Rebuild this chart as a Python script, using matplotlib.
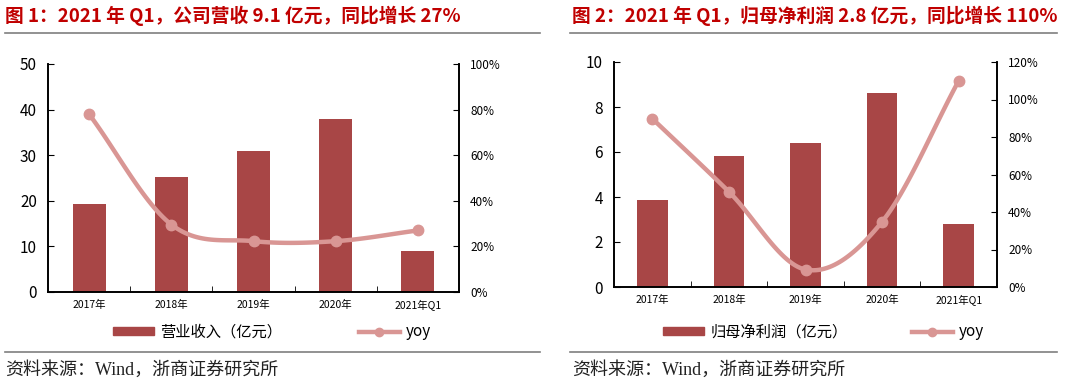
import matplotlib
matplotlib.use("Agg")
import matplotlib.pyplot as plt
import numpy as np
from matplotlib.lines import Line2D
from matplotlib.patches import Patch
from matplotlib.ticker import FuncFormatter

plt.rcParams["font.family"] = ["Noto Sans CJK SC", "DejaVu Sans"]

categories = ["2017年", "2018年", "2019年", "2020年", "2021年Q1"]

revenue = [19.3, 25.2, 31.0, 37.9, 9.1]
revenue_yoy = [78, 29.6, 22.3, 22.3, 27.0]

profit = [3.86, 5.82, 6.39, 8.62, 2.82]
profit_yoy = [89.8, 50.8, 9.3, 34.8, 110.0]

BAR = "#A84646"
LINE = "#D99694"
RED = "#C00000"
GREY = "#7F7F7F"


def smooth(x, y, n=30):
    # catmull-rom through the points, like Excel's smoothed line
    x = np.asarray(x, float)
    y = np.asarray(y, float)
    px = np.concatenate([[2 * x[0] - x[1]], x, [2 * x[-1] - x[-2]]])
    py = np.concatenate([[2 * y[0] - y[1]], y, [2 * y[-1] - y[-2]]])
    xs, ys = [], []
    t = np.linspace(0, 1, n)
    for i in range(1, len(px) - 2):
        for p, out in ((px, xs), (py, ys)):
            p0, p1, p2, p3 = p[i - 1], p[i], p[i + 1], p[i + 2]
            out.extend(0.5 * (2 * p1 + (-p0 + p2) * t
                              + (2 * p0 - 5 * p1 + 4 * p2 - p3) * t ** 2
                              + (-p0 + 3 * p1 - 3 * p2 + p3) * t ** 3))
    return np.array(xs), np.array(ys)


def panel(fig, rect, bars, yoy, ymax, ystep, pmax, bar_label, legend_x, colsp):
    ax = fig.add_axes(rect)
    x = np.arange(len(categories))
    ax.bar(x, bars, width=0.4, color=BAR, zorder=2)
    ax.set_xlim(-0.5, len(categories) - 0.5)
    ax.set_ylim(0, ymax)
    ax.set_yticks(np.arange(0, ymax + 0.01, ystep))
    ax.set_xticks(x)
    ax.set_xticklabels(categories, fontsize=7.5)
    ax.set_xticks(np.arange(0.5, len(categories) - 1, 1), minor=True)
    ax.tick_params(axis="x", which="major", length=0, pad=6)
    ax.tick_params(axis="x", which="minor", direction="in", length=4)
    ax.tick_params(axis="y", direction="in", length=4, labelsize=11, pad=8)
    ax.spines["top"].set_visible(False)
    for s in ax.spines.values():
        s.set_linewidth(1.2)

    ax2 = ax.twinx()
    ax2.set_ylim(0, pmax)
    ax2.set_yticks(np.arange(0, pmax + 0.01, 20))
    ax2.yaxis.set_major_formatter(FuncFormatter(lambda v, _: f"{v:.0f}%"))
    ax2.tick_params(axis="y", direction="in", length=4, labelsize=8.5, pad=8)
    ax2.spines["top"].set_visible(False)
    for s in ax2.spines.values():
        s.set_linewidth(1.2)
    sx, sy = smooth(x, yoy)
    ax2.plot(sx, sy, color=LINE, lw=3.2, solid_capstyle="round", zorder=3)
    ax2.plot(x, yoy, "o", color=LINE, ms=7.5, zorder=4)

    handles = [Patch(color=BAR), Line2D([], [], color=LINE, lw=3.2, marker="o", ms=6)]
    fig.legend(handles, [bar_label, "yoy"], loc="center left",
               bbox_to_anchor=(legend_x, 1 - 332 / 387), ncol=2, frameon=False,
               fontsize=11, handlelength=2.7, handleheight=0.45,
               columnspacing=colsp, handletextpad=0.4, borderaxespad=0,
               borderpad=0)
    return ax


fig = plt.figure(figsize=(10.8, 3.87), dpi=100)

panel(fig, [48 / 1080, 95 / 387, 411 / 1080, 228 / 387], revenue, revenue_yoy,
      50, 10, 100, "营业收入（亿元）", 113 / 1080, 5.0)
panel(fig, [614 / 1080, 100 / 387, 383 / 1080, 225 / 387], profit, profit_yoy,
      10, 2, 120, "归母净利润（亿元）", 663 / 1080, 4.2)

fig.text(5 / 1080, 1 - 16 / 387, "图 1：2021 年 Q1，公司营收 9.1 亿元，同比增长 27%",
         color=RED, fontsize=13.5, fontweight="bold", va="center")
fig.text(572 / 1080, 1 - 16 / 387, "图 2：2021 年 Q1，归母净利润 2.8 亿元，同比增长 110%",
         color=RED, fontsize=13.5, fontweight="bold", va="center")

for x0, x1 in ((5, 540), (570, 1057)):
    for yy in (33, 352):
        fig.add_artist(Line2D([x0 / 1080, x1 / 1080], [1 - yy / 387] * 2,
                              color=GREY, lw=1.2))

for x0 in (5, 572):
    fig.text(x0 / 1080, 1 - 370 / 387, "资料来源：Wind，浙商证券研究所",
             fontsize=13, va="center", color="#222222",
             family=["Liberation Serif", "Noto Sans CJK SC"])

fig.savefig("out.png", dpi=100)
